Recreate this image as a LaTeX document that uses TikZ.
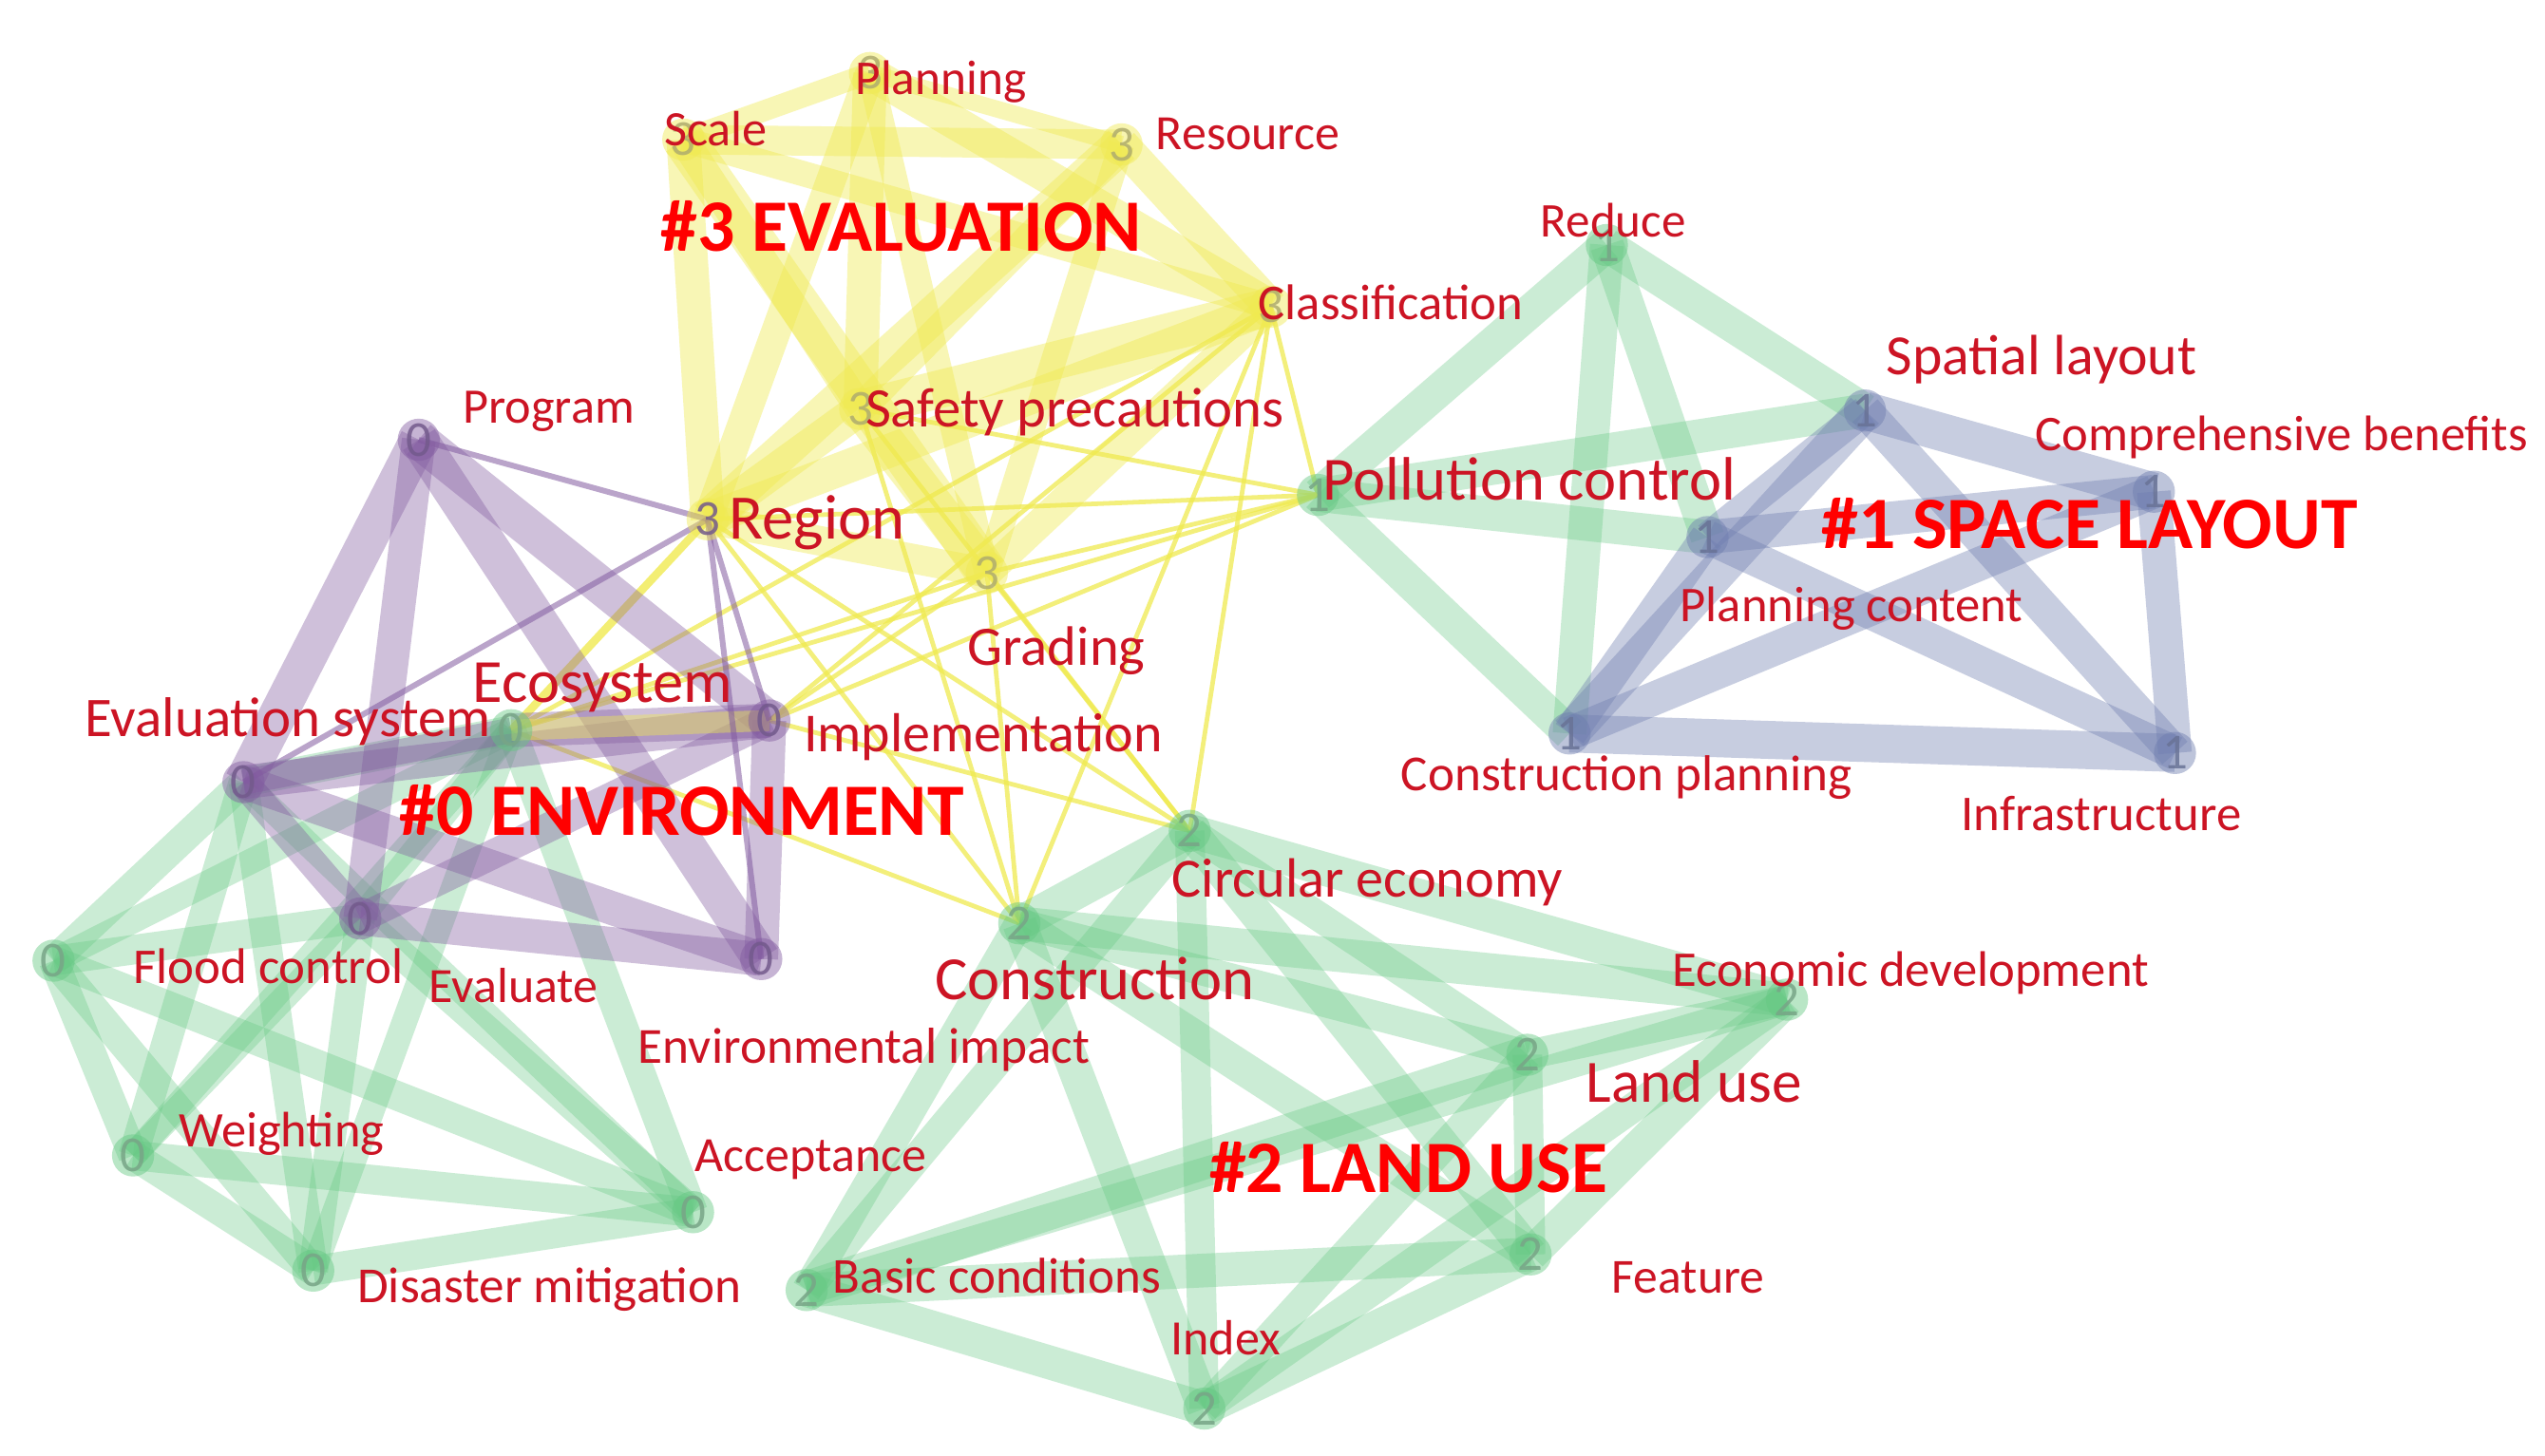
\documentclass[tikz,border=0pt]{standalone}
\usepackage{fontspec}
\setmainfont{Carlito}
\newcommand{\fsz}[1]{\fontsize{#1}{#1}\selectfont}
\definecolor{cy}{RGB}{240,234,80}
\definecolor{cp}{RGB}{130,90,160}
\definecolor{cg}{RGB}{100,200,130}
\definecolor{cbl}{RGB}{110,125,175}
\definecolor{lblred}{RGB}{204,20,36}
\definecolor{hdred}{RGB}{255,0,0}
\definecolor{dy}{RGB}{175,172,110}
\definecolor{dp}{RGB}{115,90,140}
\definecolor{dg}{RGB}{120,165,135}
\definecolor{db}{RGB}{105,115,150}
\tikzset{
  yband/.style={draw=cy, draw opacity=0.42, line width=1.3*#1},
  pband/.style={draw=cp, draw opacity=0.38, line width=1.3*#1},
  gband/.style={draw=cg, draw opacity=0.33, line width=1.3*#1},
  bband/.style={draw=cbl, draw opacity=0.38, line width=1.3*#1},
  yline/.style={draw=cy, draw opacity=0.75, line width=2.8},
  pline/.style={draw=cp, draw opacity=0.55, line width=3.5},
  lbl/.style={anchor=base west, inner sep=0, text=lblred, font=\fsz{#1}},
  hd/.style={anchor=base west, inner sep=0, text=hdred, font=\bfseries\fsz{#1}},
  glyph/.style={circle, inner sep=0, minimum size=26, fill=#1, fill opacity=0.45, text opacity=0.85, font=\fsz{31}},
}
\begin{document}
\begin{tikzpicture}[x=1pt,y=-1pt]
\fill[white] (0,0) rectangle (1568,897);
\useasboundingbox (0,0) rectangle (1568,897);
% ---------- node centres
% cluster 3
\coordinate (pl) at (536,45);
\coordinate (sc) at (421,86);
\coordinate (rs) at (691,89);
\coordinate (cl) at (783,189);
\coordinate (sf) at (530,252);
\coordinate (rg) at (436,320);
\coordinate (gr) at (608,353);
% cluster 0
\coordinate (pg) at (258,271);
\coordinate (es) at (150,482);
\coordinate (ec) at (315,450);
\coordinate (im) at (474,444);
\coordinate (fc) at (222,566);
\coordinate (ei) at (469,591);
\coordinate (lf) at (33,592);
\coordinate (wt) at (82,712);
\coordinate (dm) at (193,783);
\coordinate (ac) at (427,747);
% cluster 1
\coordinate (rd) at (990,151);
\coordinate (pc) at (812,305);
\coordinate (sl) at (1149,253);
\coordinate (cb) at (1327,303);
\coordinate (pn) at (1052,331);
\coordinate (cpl) at (967,452);
\coordinate (inf) at (1340,464);
% cluster 2
\coordinate (ce) at (733,512);
\coordinate (cn) at (628,569);
\coordinate (ed) at (1101,616);
\coordinate (lu) at (941,650);
\coordinate (ft) at (943,773);
\coordinate (bc) at (497,795);
\coordinate (ix) at (742,868);

% ---------- thin yellow links
\foreach \a/\b in {rg/cn,rg/ce,gr/ec,gr/im,gr/cn,gr/ce,gr/pc,cl/ec,cl/im,cl/cn,cl/ce,cl/pc,sf/pc,sf/cn,im/ce,im/pc,ec/pc,rg/pc,sf/ce,ec/cn}
  \draw[yline] (\a) -- (\b);
\draw[draw=cy, draw opacity=0.8, line width=5] (rg) -- (ec);

% ---------- yellow cluster
\foreach \a/\b/\w in {sc/rg/16,sc/gr/20,sc/rs/14,sc/sf/14,sc/pl/10,sc/cl/12,
  pl/rg/14,pl/sf/16,pl/cl/16,pl/gr/12,pl/rs/8,
  rs/rg/18,rs/cl/16,rs/sf/14,rs/gr/12,
  cl/rg/16,cl/sf/18,cl/gr/14,
  sf/rg/16,sf/gr/18,rg/gr/14}
  \draw[yband=\w] (\a) -- (\b);

% ---------- green cluster (left)
\foreach \a/\b/\w in {lf/es/14,lf/fc/14,lf/ec/12,lf/wt/14,lf/dm/14,lf/ac/14,
  wt/dm/14,wt/ac/14,wt/es/14,wt/fc/12,wt/ec/12,
  dm/ac/14,dm/es/14,dm/fc/14,dm/ec/12,
  ac/es/12,ac/fc/14,ac/ec/14,
  es/ec/14,fc/ec/12}
  \draw[gband=\w] (\a) -- (\b);

% ---------- purple cluster
\foreach \a/\b/\w in {pg/es/18,pg/fc/16,pg/im/18,pg/ei/18,
  es/im/16,es/fc/14,es/ei/16,fc/im/14,fc/ei/16,im/ei/16,es/ec/12}
  \draw[pband=\w] (\a) -- (\b);
\draw[pband=16] (ec) -- (im);
\draw[yband=10] (ec) -- (im);
\foreach \a/\b in {rg/pg,rg/es,rg/im,rg/ei}
  \draw[pline] (\a) -- (\b);

% ---------- cluster 1
\foreach \a/\b/\w in {rd/pc/16,rd/sl/16,rd/cpl/16,rd/pn/16,pc/sl/16,pc/pn/16,pc/cpl/16}
  \draw[gband=\w] (\a) -- (\b);
\foreach \a/\b/\w in {sl/cb/18,sl/pn/14,sl/cpl/18,sl/inf/16,cb/pn/16,cb/cpl/16,cb/inf/16,pn/cpl/16,pn/inf/16,cpl/inf/18}
  \draw[bband=\w] (\a) -- (\b);

% ---------- cluster 2
\foreach \a/\b/\w in {ce/cn/16,ce/ed/16,ce/lu/14,ce/ft/16,ce/bc/14,ce/ix/14,
  cn/ed/16,cn/lu/14,cn/ft/16,cn/bc/14,cn/ix/16,
  ed/lu/14,ed/ft/16,ed/ix/14,ed/bc/14,
  lu/ft/14,lu/bc/18,lu/ix/14,ft/bc/16,ft/ix/16,bc/ix/16}
  \draw[gband=\w] (\a) -- (\b);

% ---------- node glyphs
\foreach \n in {pl,sc,rs,cl,sf,gr}
  \node[glyph=cy, text=dy] (\n-g) at (\n) {3};
\node[glyph=cy, text=dp] (rg-g) at (rg) {3};
\foreach \n in {pg,es,im,fc,ei}
  \node[glyph=cp, text=dp] (\n-g) at (\n) {0};
\foreach \n in {ec,lf,wt,dm,ac}
  \node[glyph=cg, text=dg] (\n-g) at (\n) {0};
\foreach \n in {rd,pc}
  \node[glyph=cg, text=dg] (\n-g) at (\n) {1};
\foreach \n in {sl,cb,pn,cpl,inf}
  \node[glyph=cbl, text=db] (\n-g) at (\n) {1};
\foreach \n in {ce,cn,ed,lu,ft,bc,ix}
  \node[glyph=cg, text=dg] (\n-g) at (\n) {2};

% ---------- labels
\node[lbl=30] (t-pl) at (527,58) {Planning};
\node[lbl=30.6] (t-sc) at (409,90) {Scale};
\node[lbl=30.4] (t-rs) at (712,92) {Resource};
\node[lbl=30.9] (t-cl) at (775,197) {Classification};
\node[lbl=34.4] (t-sf) at (533,263) {Safety precautions};
\node[lbl=39] (t-rg) at (449,332) {Region};
\node[lbl=34.3] (t-gr) at (596,410) {Grading};
\node[lbl=30.6] (t-pg) at (285,261) {Program};
\node[lbl=37.8] (t-ec) at (291,433) {Ecosystem};
\node[lbl=33.9] (t-im) at (495,463) {Implementation};
\node[lbl=34.5] (t-es) at (52,454) {Evaluation system};
\node[lbl=30.9] (t-fc) at (82,606) {Flood control};
\node[lbl=30.4] (t-ev) at (264,618) {Evaluate};
\node[lbl=31.2] (t-ei) at (393,655) {Environmental impact};
\node[lbl=30.7] (t-wt) at (110,707) {Weighting};
\node[lbl=30.4] (t-ac) at (428,722) {Acceptance};
\node[lbl=31.1] (t-dm) at (220,803) {Disaster mitigation};
\node[lbl=29.9] (t-rd) at (949,146) {Reduce};
\node[lbl=35] (t-sl) at (1162,231) {Spatial layout};
\node[lbl=30.8] (t-cb) at (1254,278) {Comprehensive benefits};
\node[lbl=37.8] (t-pc) at (815,308) {Pollution control};
\node[lbl=30.8] (t-pn) at (1035,383) {Planning content};
\node[lbl=31.1] (t-cp) at (863,487) {Construction planning};
\node[lbl=30.9] (t-inf) at (1208,512) {Infrastructure};
\node[lbl=34.1] (t-ce) at (722,553) {Circular economy};
\node[lbl=37.8] (t-cn) at (576,616) {Construction};
\node[lbl=30.8] (t-ed) at (1030,608) {Economic development};
\node[lbl=37] (t-lu) at (977,679) {Land use};
\node[lbl=30.2] (t-ft) at (993,797) {Feature};
\node[lbl=31] (t-bc) at (513,797) {Basic conditions};
\node[lbl=30.5] (t-ix) at (721,835) {Index};

\node[hd=45.5] (h3) at (407,155) {\#3 EVALUATION};
\node[hd=45.5] (h0) at (246,515) {\#0 ENVIRONMENT};
\node[hd=45.5] (h1) at (1122,338) {\#1 SPACE LAYOUT};
\node[hd=45.5] (h2) at (745,735) {\#2 LAND USE};
\end{tikzpicture}
\end{document}
